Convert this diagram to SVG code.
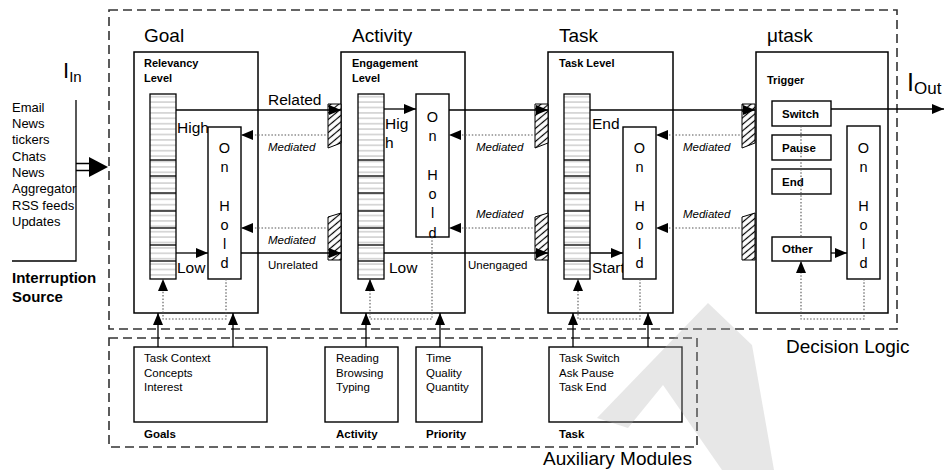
<svg xmlns="http://www.w3.org/2000/svg" xmlns:xlink="http://www.w3.org/1999/xlink" width="944" height="470" viewBox="0 0 944 470">
<style>
text{font-family:"Liberation Sans",Arial,sans-serif;fill:#000}
.box{fill:#fff;stroke:#000;stroke-width:1.5}
.sbox{fill:#fff;stroke:#000;stroke-width:1.4}
.dash{fill:none;stroke:#333;stroke-width:1.6;stroke-dasharray:9 5}
.ln{fill:none;stroke:#000;stroke-width:1.3}
.dot{fill:none;stroke:#555;stroke-width:1.1;stroke-dasharray:1.5 1.8}
.title{font-size:19px}
.lbl{font-size:15.5px}
.med{font-size:11.5px;font-style:italic}
.sm{font-size:11.5px}
.hdr{font-size:11px;font-weight:bold}
.b{font-weight:bold}
.oh{font-size:14.5px;text-anchor:middle}
.hatch{fill:url(#hatch);stroke:#000;stroke-width:1}
</style>
<defs>
<marker id="ah" markerUnits="userSpaceOnUse" markerWidth="13" markerHeight="10" refX="12" refY="5" orient="auto">
<path d="M0,0 L12,5 L0,10 z" fill="#000"/>
</marker>
<pattern id="stripes" patternUnits="userSpaceOnUse" width="26" height="5.4">
<rect width="26" height="5.4" fill="#fff"/>
<line x1="0" y1="2.7" x2="26" y2="2.7" stroke="#b5b5b5" stroke-width="1"/>
</pattern>
<pattern id="hatch" patternUnits="userSpaceOnUse" width="5" height="5" patternTransform="rotate(-40)">
<rect width="5" height="5" fill="#fff"/>
<line x1="0" y1="2.5" x2="5" y2="2.5" stroke="#000" stroke-width="1.2"/>
</pattern>
<g id="ladder">
<rect width="26" height="185" fill="url(#stripes)"/>
<path d="M0,66h26M0,82h26M0,99h26M0,117h26M0,134h26M0,151h26M0,167h26" stroke="#222" stroke-width="1.5"/>
<rect width="26" height="185" fill="none" stroke="#000" stroke-width="1.3"/>
</g>
</defs>

<g id="frames">
<rect class="dash" x="109" y="10" width="788" height="319"/>
<rect class="dash" x="109" y="338" width="588" height="109"/>
<text class="title" x="786" y="353">Decision Logic</text>
<text class="title" x="543" y="465">Auxiliary Modules</text>
</g>

<g id="source">
<text x="63" y="78" font-size="22">I<tspan font-size="15" dy="4">In</tspan></text>
<text font-size="13">
<tspan x="12" y="112">Email</tspan>
<tspan x="12" y="128">News</tspan>
<tspan x="12" y="144">tickers</tspan>
<tspan x="12" y="161">Chats</tspan>
<tspan x="12" y="177">News</tspan>
<tspan x="12" y="193">Aggregator</tspan>
<tspan x="12" y="210">RSS feeds</tspan>
<tspan x="12" y="226">Updates</tspan>
</text>
<path class="ln" d="M76,100 V261 H12"/>
<text class="b" font-size="15" x="12" y="283">Interruption</text>
<text class="b" font-size="15" x="12" y="302">Source</text>
</g>

<g id="goal">
<text class="title" x="144" y="42">Goal</text>
<rect class="box" x="134" y="52" width="124" height="261"/>
<text class="hdr" x="144" y="67">Relevancy</text>
<text class="hdr" x="144" y="82">Level</text>
<use xlink:href="#ladder" x="150" y="94"/>
<text class="lbl" x="177" y="133">High</text>
<text class="lbl" x="177" y="273">Low</text>
<g id="goal-hold">
<rect class="sbox" x="208" y="127" width="33" height="152"/>
<text class="oh"><tspan x="224.5" y="153">O</tspan><tspan x="224.5" y="172">n</tspan><tspan x="224.5" y="211">H</tspan><tspan x="224.5" y="230">o</tspan><tspan x="224.5" y="249">l</tspan><tspan x="224.5" y="268">d</tspan></text>
</g>
</g>

<g id="activity">
<text class="title" x="352" y="42">Activity</text>
<rect class="box" x="341" y="52" width="124" height="261"/>
<text class="hdr" x="352" y="67">Engagement</text>
<text class="hdr" x="352" y="82">Level</text>
<use xlink:href="#ladder" x="358" y="94"/>
<text class="lbl" x="385" y="129">Hig</text>
<text class="lbl" x="385" y="148">h</text>
<text class="lbl" x="389" y="273">Low</text>
<g id="activity-hold">
<rect class="sbox" x="416" y="94" width="33" height="143"/>
<text class="oh"><tspan x="432.5" y="122">O</tspan><tspan x="432.5" y="141">n</tspan><tspan x="432.5" y="180">H</tspan><tspan x="432.5" y="199">o</tspan><tspan x="432.5" y="218">l</tspan><tspan x="432.5" y="238">d</tspan></text>
</g>
</g>

<g id="task">
<text class="title" x="559" y="42">Task</text>
<rect class="box" x="548" y="52" width="125" height="261"/>
<text class="hdr" x="559" y="67">Task Level</text>
<use xlink:href="#ladder" x="564" y="94"/>
<text class="lbl" x="592" y="129">End</text>
<text class="lbl" x="592" y="273">Start</text>
<g id="task-hold">
<rect class="sbox" x="623" y="127" width="33" height="152"/>
<text class="oh"><tspan x="639.5" y="153">O</tspan><tspan x="639.5" y="172">n</tspan><tspan x="639.5" y="211">H</tspan><tspan x="639.5" y="230">o</tspan><tspan x="639.5" y="249">l</tspan><tspan x="639.5" y="268">d</tspan></text>
</g>
</g>

<g id="utask">
<text class="title" x="767" y="42">μtask</text>
<rect class="box" x="756" y="52" width="132" height="261"/>
<text class="hdr" x="767" y="84">Trigger</text>
<g id="utask-switch"><rect class="sbox" x="772" y="101" width="59" height="25"/><text class="sm b" x="782" y="118">Switch</text></g>
<g id="utask-pause"><rect class="sbox" x="772" y="135" width="59" height="25"/><text class="sm b" x="782" y="152">Pause</text></g>
<g id="utask-end"><rect class="sbox" x="772" y="169" width="59" height="25"/><text class="sm b" x="782" y="186">End</text></g>
<g id="utask-other"><rect class="sbox" x="772" y="237" width="59" height="24"/><text class="sm b" x="782" y="253">Other</text></g>
<g id="utask-hold">
<rect class="sbox" x="847" y="126" width="33" height="153"/>
<text class="oh"><tspan x="863.5" y="153">O</tspan><tspan x="863.5" y="172">n</tspan><tspan x="863.5" y="211">H</tspan><tspan x="863.5" y="230">o</tspan><tspan x="863.5" y="249">l</tspan><tspan x="863.5" y="268">d</tspan></text>
</g>
<text x="907" y="91" font-size="25">I<tspan font-size="17" dy="3">Out</tspan></text>
</g>

<g id="aux-goals">
<rect class="sbox" x="134" y="347" width="133" height="75"/>
<text class="sm"><tspan x="144" y="362">Task Context</tspan><tspan x="144" y="377">Concepts</tspan><tspan x="144" y="391">Interest</tspan></text>
<text class="sm b" x="144" y="438">Goals</text>
</g>
<g id="aux-activity">
<rect class="sbox" x="325" y="347" width="73" height="75"/>
<text class="sm"><tspan x="336" y="362">Reading</tspan><tspan x="336" y="377">Browsing</tspan><tspan x="336" y="391">Typing</tspan></text>
<text class="sm b" x="336" y="438">Activity</text>
</g>
<g id="aux-priority">
<rect class="sbox" x="416" y="347" width="66" height="75"/>
<text class="sm"><tspan x="426" y="362">Time</tspan><tspan x="426" y="377">Quality</tspan><tspan x="426" y="391">Quantity</tspan></text>
<text class="sm b" x="426" y="438">Priority</text>
</g>
<g id="aux-task">
<rect class="sbox" x="549" y="347" width="133" height="75"/>
<text class="sm"><tspan x="559" y="362">Task Switch</tspan><tspan x="559" y="377">Ask Pause</tspan><tspan x="559" y="391">Task End</tspan></text>
<text class="sm b" x="559" y="438">Task</text>
</g>

<g id="connectors">
<path d="M76,163.5 H92 M76,170.5 H92" stroke="#000" stroke-width="1.6"/>
<path d="M89,157 L108,167 L89,177 z" fill="#000"/>
<polygon class="hatch" points="328,104 341,104 341,143 328,148"/>
<polygon class="hatch" points="328,217 341,213 341,260 328,260"/>
<polygon class="hatch" points="535,104 548,104 548,143 535,148"/>
<polygon class="hatch" points="535,217 548,213 548,260 535,260"/>
<polygon class="hatch" points="742,104 755,104 755,143 742,148"/>
<polygon class="hatch" points="742,217 755,213 755,260 742,260"/>
<path class="ln" d="M176,110 H341" marker-end="url(#ah)"/>
<path class="ln" d="M176,253 H208" marker-end="url(#ah)"/>
<path class="dot" d="M329,135 H241" marker-end="url(#ah)"/>
<path class="dot" d="M329,228 H241" marker-end="url(#ah)"/>
<path class="ln" d="M241,253 H341" marker-end="url(#ah)"/>
<text class="lbl" x="268" y="105">Related</text>
<text class="med" x="268" y="151">Mediated</text>
<text class="med" x="268" y="244">Mediated</text>
<text class="sm" x="268" y="269">Unrelated</text>
<path class="ln" d="M384,109 H416" marker-end="url(#ah)"/>
<path class="ln" d="M449,110 H548" marker-end="url(#ah)"/>
<path class="dot" d="M536,135 H449" marker-end="url(#ah)"/>
<path class="dot" d="M536,228 H449" marker-end="url(#ah)"/>
<path class="ln" d="M384,253 H548" marker-end="url(#ah)"/>
<text class="med" x="476" y="151">Mediated</text>
<text class="med" x="476" y="218">Mediated</text>
<text class="sm" x="468" y="269">Unengaged</text>
<path class="ln" d="M590,110 H755" marker-end="url(#ah)"/>
<path class="ln" d="M590,253 H623" marker-end="url(#ah)"/>
<path class="dot" d="M743,135 H656" marker-end="url(#ah)"/>
<path class="dot" d="M743,228 H656" marker-end="url(#ah)"/>
<text class="med" x="683" y="151">Mediated</text>
<text class="med" x="683" y="218">Mediated</text>
<path class="ln" d="M831,109 H944" marker-end="url(#ah)"/>
<path class="ln" d="M831,253 H847" marker-end="url(#ah)"/>
<path class="dot" d="M801,126 V237"/>
<path class="dot" d="M226,279 V319 H163 V279" marker-end="url(#ah)"/>
<path class="dot" d="M432,237 V319 H370 V279" marker-end="url(#ah)"/>
<path class="dot" d="M640,279 V319 H578 V279" marker-end="url(#ah)"/>
<path class="dot" d="M864,279 V319 H801 V261" marker-end="url(#ah)"/>
<path class="ln" d="M158,347 V313" marker-end="url(#ah)"/>
<path class="ln" d="M233,347 V313" marker-end="url(#ah)"/>
<path class="ln" d="M366,347 V313" marker-end="url(#ah)"/>
<path class="ln" d="M440,347 V313" marker-end="url(#ah)"/>
<path class="ln" d="M573,347 V313" marker-end="url(#ah)"/>
<path class="ln" d="M648,347 V313" marker-end="url(#ah)"/>
</g>

<g id="watermark" opacity="0.3">
<polygon points="708,303 752,345 774,470 722,470 663,385 628,428 597,418" fill="#b0b0b0"/>
</g>
</svg>
